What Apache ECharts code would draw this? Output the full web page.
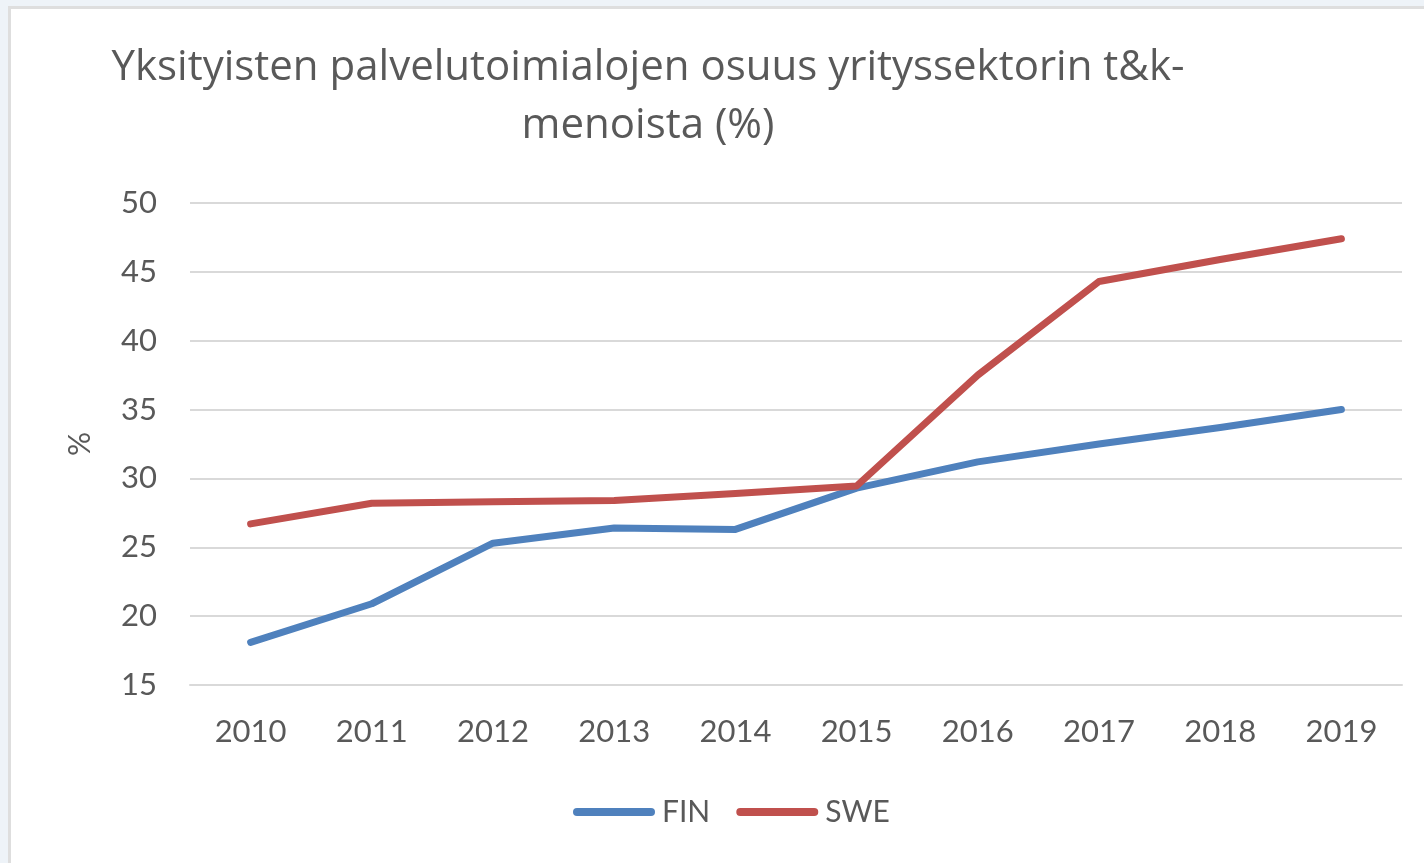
<!DOCTYPE html>
<html>
<head>
<meta charset="utf-8">
<script src="https://cdn.jsdelivr.net/npm/echarts@6/dist/echarts.min.js"></script>
<style>
  html, body { margin: 0; padding: 0; width: 1424px; height: 863px; background: #eef3f8; overflow: hidden; }
  #frame { position: absolute; left: 8px; top: 6px; right: 0; bottom: 0; background: #ffffff; border-left: 3px solid #dedede; border-top: 3px solid #dedede; }
  #chart { position: absolute; left: 0; top: 0; width: 1424px; height: 863px; }
</style>
</head>
<body>
<div id="frame"></div>
<div id="chart"></div>
<script>
const titleText = 'Yksityisten palvelutoimialojen osuus yrityssektorin t&k-\nmenoista (%)';
const years = ['2010', '2011', '2012', '2013', '2014', '2015', '2016', '2017', '2018', '2019'];
const finValues = [18.1, 20.9, 25.3, 26.4, 26.3, 29.3, 31.2, 32.5, 33.7, 35.0];
const sweValues = [26.7, 28.2, 28.3, 28.4, 28.9, 29.45, 37.5, 44.3, 45.9, 47.4];
const seriesNames = ['FIN', 'SWE'];
const yAxisName = '%';

const font = 'Lato, "Open Sans", sans-serif';
const titleFont = '"Open Sans", Lato, sans-serif';
const textColor = '#595959';

const chart = echarts.init(document.getElementById('chart'), null, { renderer: 'canvas' });
chart.setOption({
  backgroundColor: 'transparent',
  animation: false,
  graphic: [{
    type: 'text',
    x: 648,
    y: 39,
    style: {
      text: titleText,
      textAlign: 'center',
      textVerticalAlign: 'top',
      fontFamily: titleFont,
      fontSize: 42,
      lineHeight: 58,
      fill: textColor
    }
  }],
  grid: { left: 190, right: 22, top: 203, bottom: 178, containLabel: false },
  legend: {
    bottom: 31,
    left: 568,
    data: seriesNames,
    itemWidth: 82,
    itemHeight: 9,
    itemGap: 26,
    icon: 'path://M4,0 L78,0 A4,4 0 0 1 78,8 L4,8 A4,4 0 0 1 4,0 Z',
    textStyle: { fontFamily: font, fontSize: 30, color: textColor, padding: [0, 0, 0, 2] }
  },
  xAxis: {
    type: 'category',
    data: years,
    boundaryGap: true,
    axisLine: { show: true, lineStyle: { color: '#d9d9d9', width: 2 } },
    axisTick: { show: false },
    axisLabel: { fontFamily: font, fontSize: 31, color: textColor, margin: 31 },
    splitLine: { show: false }
  },
  yAxis: {
    type: 'value',
    min: 15,
    max: 50,
    interval: 5,
    name: yAxisName,
    nameLocation: 'middle',
    nameGap: 95,
    nameRotate: 90,
    nameTextStyle: { fontFamily: font, fontSize: 30, color: textColor },
    axisLine: { show: false },
    axisTick: { show: false },
    axisLabel: { fontFamily: font, fontSize: 31, color: textColor, margin: 33 },
    splitLine: { lineStyle: { color: '#d9d9d9', width: 2 } }
  },
  series: [
    {
      name: seriesNames[0],
      type: 'line',
      data: finValues,
      symbol: 'none',
      color: '#4f81bd',
      lineStyle: { width: 7, color: '#4f81bd', cap: 'round', join: 'round' }
    },
    {
      name: seriesNames[1],
      type: 'line',
      data: sweValues,
      symbol: 'none',
      color: '#c0504d',
      lineStyle: { width: 7, color: '#c0504d', cap: 'round', join: 'round' }
    }
  ]
});
</script>
</body>
</html>
